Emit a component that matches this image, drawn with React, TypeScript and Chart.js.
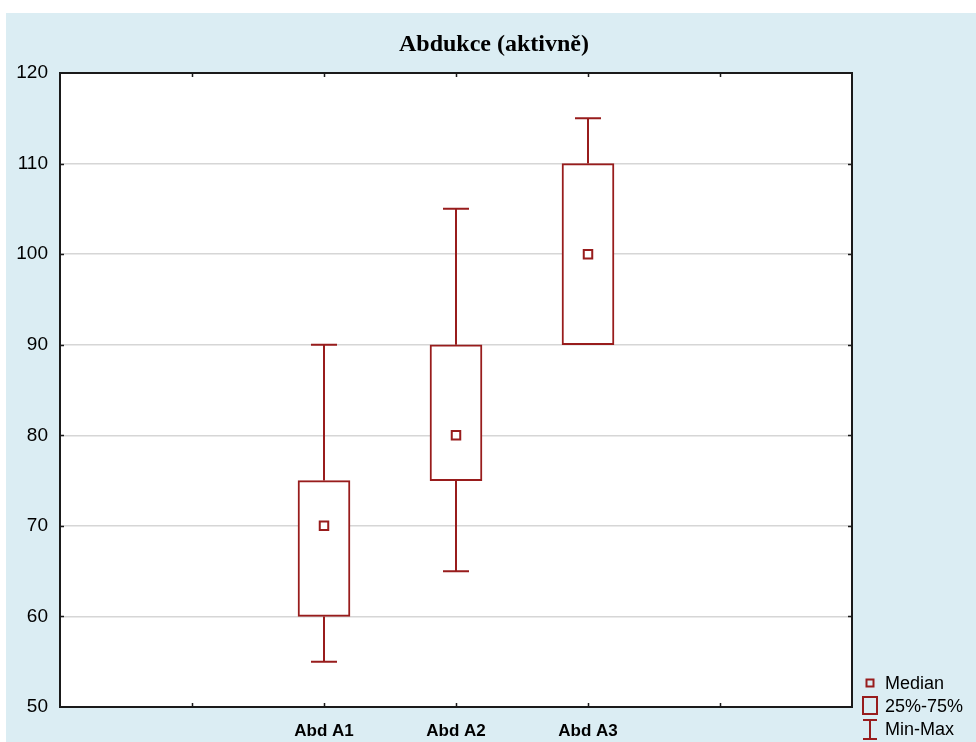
import React, { useEffect, useRef } from "react";
import { Chart, registerables } from "chart.js";

Chart.register(...registerables);

const title = "Abdukce (aktivně)";
const categories = ["Abd A1", "Abd A2", "Abd A3"];
const minValues = [55, 65, 90];
const q1Values = [60, 75, 90];
const medianValues = [70, 80, 100];
const q3Values = [75, 90, 110];
const maxValues = [90, 105, 115];
const legendLabels = ["Median", "25%-75%", "Min-Max"];
const yMin = 50;
const yMax = 120;
const yStep = 10;

const RED = "#981c1c";
const BG = "#dbedf3";

// two empty slots on each side of the categories, like the original layout
const slotLabels = ["", "", ...categories, "", ""];
const pad = (arr: any[]) => [null, null, ...arr, null, null];

const decor = {
  id: "decor",
  beforeDraw(chart: any) {
    const { ctx, chartArea: a } = chart;
    ctx.save();
    ctx.fillStyle = BG;
    ctx.fillRect(6, 13, chart.width - 6, chart.height - 13);
    ctx.fillStyle = "#ffffff";
    ctx.fillRect(a.left, a.top, a.right - a.left, a.bottom - a.top);
    // title
    ctx.fillStyle = "#000";
    ctx.font = "bold 24px 'Liberation Serif', 'DejaVu Serif', serif";
    ctx.textAlign = "center";
    ctx.textBaseline = "middle";
    ctx.fillText(title, 494, 45);
    ctx.restore();
  },
  afterDatasetsDraw(chart: any) {
    const { ctx, chartArea: a, scales } = chart;
    const x = scales.x;
    const y = scales.y;
    ctx.save();
    // whiskers
    ctx.strokeStyle = RED;
    ctx.lineWidth = 2;
    categories.forEach((c, i) => {
      const px = Math.round(x.getPixelForValue(i + 2));
      const yMinP = y.getPixelForValue(minValues[i]);
      const yQ1 = y.getPixelForValue(q1Values[i]);
      const yQ3 = y.getPixelForValue(q3Values[i]);
      const yMaxP = y.getPixelForValue(maxValues[i]);
      ctx.beginPath();
      if (yMinP - yQ1 > 0.5) {
        ctx.moveTo(px, yQ1);
        ctx.lineTo(px, yMinP);
        ctx.moveTo(px - 13, yMinP);
        ctx.lineTo(px + 13, yMinP);
      }
      ctx.moveTo(px, yQ3);
      ctx.lineTo(px, yMaxP);
      ctx.moveTo(px - 13, yMaxP);
      ctx.lineTo(px + 13, yMaxP);
      ctx.stroke();
    });
    // frame
    ctx.strokeStyle = "#1a1a1a";
    ctx.lineWidth = 2;
    ctx.strokeRect(a.left, a.top, a.right - a.left, a.bottom - a.top);
    // small inward ticks
    ctx.lineWidth = 1.5;
    ctx.beginPath();
    for (let v = yMin + yStep; v < yMax; v += yStep) {
      const py = Math.round(y.getPixelForValue(v)) + 0.5;
      ctx.moveTo(a.left, py);
      ctx.lineTo(a.left + 4, py);
      ctx.moveTo(a.right, py);
      ctx.lineTo(a.right - 4, py);
    }
    for (let k = 1; k < slotLabels.length - 1; k++) {
      const px = Math.round(x.getPixelForValue(k)) + 0.5;
      ctx.moveTo(px, a.bottom);
      ctx.lineTo(px, a.bottom - 4);
      ctx.moveTo(px, a.top);
      ctx.lineTo(px, a.top + 4);
    }
    ctx.stroke();
    // legend
    ctx.strokeStyle = RED;
    ctx.lineWidth = 2;
    ctx.fillStyle = "#000";
    ctx.font = "18px 'Liberation Sans', Arial, sans-serif";
    ctx.textAlign = "left";
    ctx.textBaseline = "middle";
    const lx = 870;
    ctx.strokeRect(lx - 3.5, 679.5, 7, 7);
    ctx.fillText(legendLabels[0], 885, 684);
    ctx.strokeRect(lx - 7, 697, 14, 17);
    ctx.fillText(legendLabels[1], 885, 707);
    ctx.beginPath();
    ctx.moveTo(lx - 7, 720);
    ctx.lineTo(lx + 7, 720);
    ctx.moveTo(lx, 720);
    ctx.lineTo(lx, 739);
    ctx.moveTo(lx - 7, 739);
    ctx.lineTo(lx + 7, 739);
    ctx.stroke();
    ctx.fillText(legendLabels[2], 885, 730);
    ctx.restore();
  },
};

export default function App() {
  const ref = useRef<HTMLCanvasElement>(null);
  useEffect(() => {
    if (!ref.current) return;
    const chart = new Chart(ref.current, {
      type: "bar",
      data: {
        labels: slotLabels,
        datasets: [
          {
            type: "bar",
            label: "25%-75%",
            data: pad(categories.map((_, i) => [q1Values[i], q3Values[i]])) as any,
            backgroundColor: "#ffffff",
            borderColor: RED,
            borderWidth: 2,
            borderSkipped: false,
            barThickness: 52,
            order: 2,
          } as any,
          {
            type: "line",
            label: "Median",
            data: pad(medianValues) as any,
            showLine: false,
            pointStyle: "rect",
            pointRadius: 6,
            pointBorderWidth: 2,
            pointBorderColor: RED,
            pointBackgroundColor: "#ffffff",
            order: 1,
          } as any,
        ],
      },
      options: {
        animation: false,
        responsive: false,
        devicePixelRatio: 1,
        layout: { padding: { top: 73, right: 124, left: 0, bottom: 0 } },
        plugins: {
          legend: { display: false },
          title: { display: false },
          tooltip: { enabled: false },
        },
        scales: {
          x: {
            type: "category",
            offset: false,
            grid: { display: false, drawTicks: false },
            border: { display: false },
            ticks: {
              autoSkip: false,
              maxRotation: 0,
              padding: 14,
              color: "#000",
              font: { family: "'Liberation Sans', Arial, sans-serif", size: 17, weight: "bold" },
            },
            afterFit: (s: any) => {
              s.height = 35;
            },
          },
          y: {
            min: yMin,
            max: yMax,
            grid: {
              color: (c: any) =>
                c.tick && (c.tick.value === yMin || c.tick.value === yMax) ? "rgba(0,0,0,0)" : "#d6d6d6",
              lineWidth: 1.5,
              drawTicks: false,
            },
            border: { display: false },
            ticks: {
              stepSize: yStep,
              padding: 12,
              color: "#000",
              font: { family: "'Liberation Sans', Arial, sans-serif", size: 19 },
            },
            afterFit: (s: any) => {
              s.width = 60;
            },
          },
        },
      },
      plugins: [decor],
    });
    return () => chart.destroy();
  }, []);
  return (
    <div style={{ position: "fixed", left: 0, top: 0, width: 976, height: 742, background: "#ffffff" }}>
      <canvas ref={ref} width={976} height={742} style={{ display: "block" }} />
    </div>
  );
}
